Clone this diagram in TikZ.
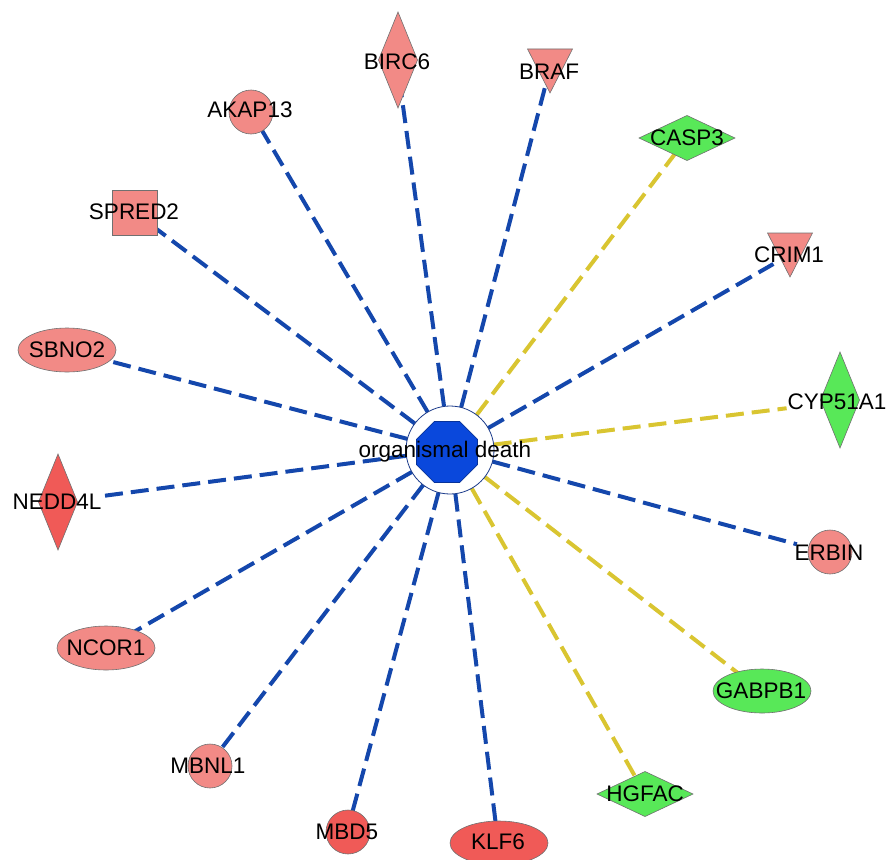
\documentclass[tikz,border=0pt]{standalone}
\usepackage{fontspec}
\setmainfont{Liberation Sans}
\usetikzlibrary{shapes.geometric,backgrounds}
\definecolor{lred}{HTML}{F28A86}
\definecolor{dred}{HTML}{F05A57}
\definecolor{grn}{HTML}{58E858}
\definecolor{eblue}{HTML}{1447AC}
\definecolor{eyel}{HTML}{D9C531}
\definecolor{octc}{HTML}{0A48DC}
\definecolor{ringc}{HTML}{1A3A8A}
\definecolor{bord}{HTML}{707070}
\begin{document}
\begin{tikzpicture}[x=1pt,y=-1pt,
  every node/.style={inner sep=0pt, outer sep=0pt},
  shp/.style={draw=bord, line width=0.6pt},
  circ/.style={shp, circle, minimum size=44pt},
  ell/.style={shp, ellipse, minimum width=98pt, minimum height=44pt},
  tdia/.style={shp, diamond, minimum width=39pt, minimum height=96pt},
  fdia/.style={shp, diamond, minimum width=96pt, minimum height=45pt},
  sqr/.style={shp, rectangle, minimum size=45pt},
  tri/.style={draw=bord, line width=0.6pt},
  lbl/.style={font=\fontsize{22.5}{27}\selectfont, inner sep=1pt, text=black},
  bl/.style={draw=eblue, line width=4pt, dash pattern=on 18pt off 8pt},
  yl/.style={draw=eyel, line width=4pt, dash pattern=on 18pt off 8pt},
]
\useasboundingbox (0,0) rectangle (890,859);

% centre
\node[circle, draw=ringc, line width=0.8pt, fill=white, minimum size=88pt] (ring) at (450,450) {};
\node[regular polygon, regular polygon sides=8, fill=octc, draw=octc!70!black, line width=0.6pt, minimum size=66pt] (oct) at (447,452) {};
\node[lbl] (center-l) at (445,452) {organismal death};

% shapes
\node[tdia, fill=lred] (birc6) at (398,60) {};
\node[lbl] (birc6-l) at (397,62) {BIRC6};

\node (braf) at (550,71) {};
\filldraw[tri, fill=lred] (braf) +(-22.5,-22) -- +(22.5,-22) -- +(0,22) -- cycle;
\node[lbl] (braf-l) at (549,72) {BRAF};

\node[circ, fill=lred] (akap13) at (251,112) {};
\node[lbl] (akap13-l) at (250,110) {AKAP13};

\node[sqr, fill=lred] (spred2) at (135,213) {};
\node[lbl] (spred2-l) at (134,212) {SPRED2};

\node[fdia, fill=grn] (casp3) at (687,138) {};
\node[lbl] (casp3-l) at (687,138) {CASP3};

\node (crim1) at (790,255) {};
\filldraw[tri, fill=lred] (crim1) +(-22.5,-22) -- +(22.5,-22) -- +(0,22) -- cycle;
\node[lbl] (crim1-l) at (789,255) {CRIM1};

\node[tdia, fill=grn] (cyp51a1) at (840,400) {};
\node[lbl] (cyp51a1-l) at (837,402) {CYP51A1};

\node[circ, fill=lred] (erbin) at (830,552) {};
\node[lbl] (erbin-l) at (829,553) {ERBIN};

\node[ell, fill=grn] (gabpb1) at (762,691) {};
\node[lbl] (gabpb1-l) at (761,691) {GABPB1};

\node[fdia, fill=grn] (hgfac) at (645,794) {};
\node[lbl] (hgfac-l) at (645,794) {HGFAC};

\node[ell, fill=dred] (klf6) at (499,843) {};
\node[lbl] (klf6-l) at (498,842) {KLF6};

\node[circ, fill=dred] (mbd5) at (348,832) {};
\node[lbl] (mbd5-l) at (347,832) {MBD5};

\node[circ, fill=lred] (mbnl1) at (210,766) {};
\node[lbl] (mbnl1-l) at (208,766) {MBNL1};

\node[ell, fill=lred] (ncor1) at (106,648) {};
\node[lbl] (ncor1-l) at (106,648) {NCOR1};

\node[tdia, fill=dred] (nedd4l) at (58,502) {};
\node[lbl] (nedd4l-l) at (57,502) {NEDD4L};

\node[ell, fill=lred] (sbno2) at (67,350) {};
\node[lbl] (sbno2-l) at (67,350) {SBNO2};

% connectors
\begin{scope}[on background layer]
\draw[bl] (ring) -- (birc6-l);
\draw[bl] (ring) -- (braf-l);
\draw[bl] (ring) -- (akap13-l);
\draw[bl] (ring) -- (spred2-l);
\draw[yl] (ring) -- (casp3-l);
\draw[bl] (ring) -- (crim1-l);
\draw[yl] (ring) -- (cyp51a1-l);
\draw[bl] (ring) -- (erbin-l);
\draw[yl] (ring) -- (gabpb1-l);
\draw[yl] (ring) -- (hgfac-l);
\draw[bl] (ring) -- (klf6-l);
\draw[bl] (ring) -- (mbd5-l);
\draw[bl] (ring) -- (mbnl1-l);
\draw[bl] (ring) -- (ncor1-l);
\draw[bl] (ring) -- (nedd4l-l);
\draw[bl] (ring) -- (sbno2-l);
\end{scope}
\end{tikzpicture}
\end{document}
